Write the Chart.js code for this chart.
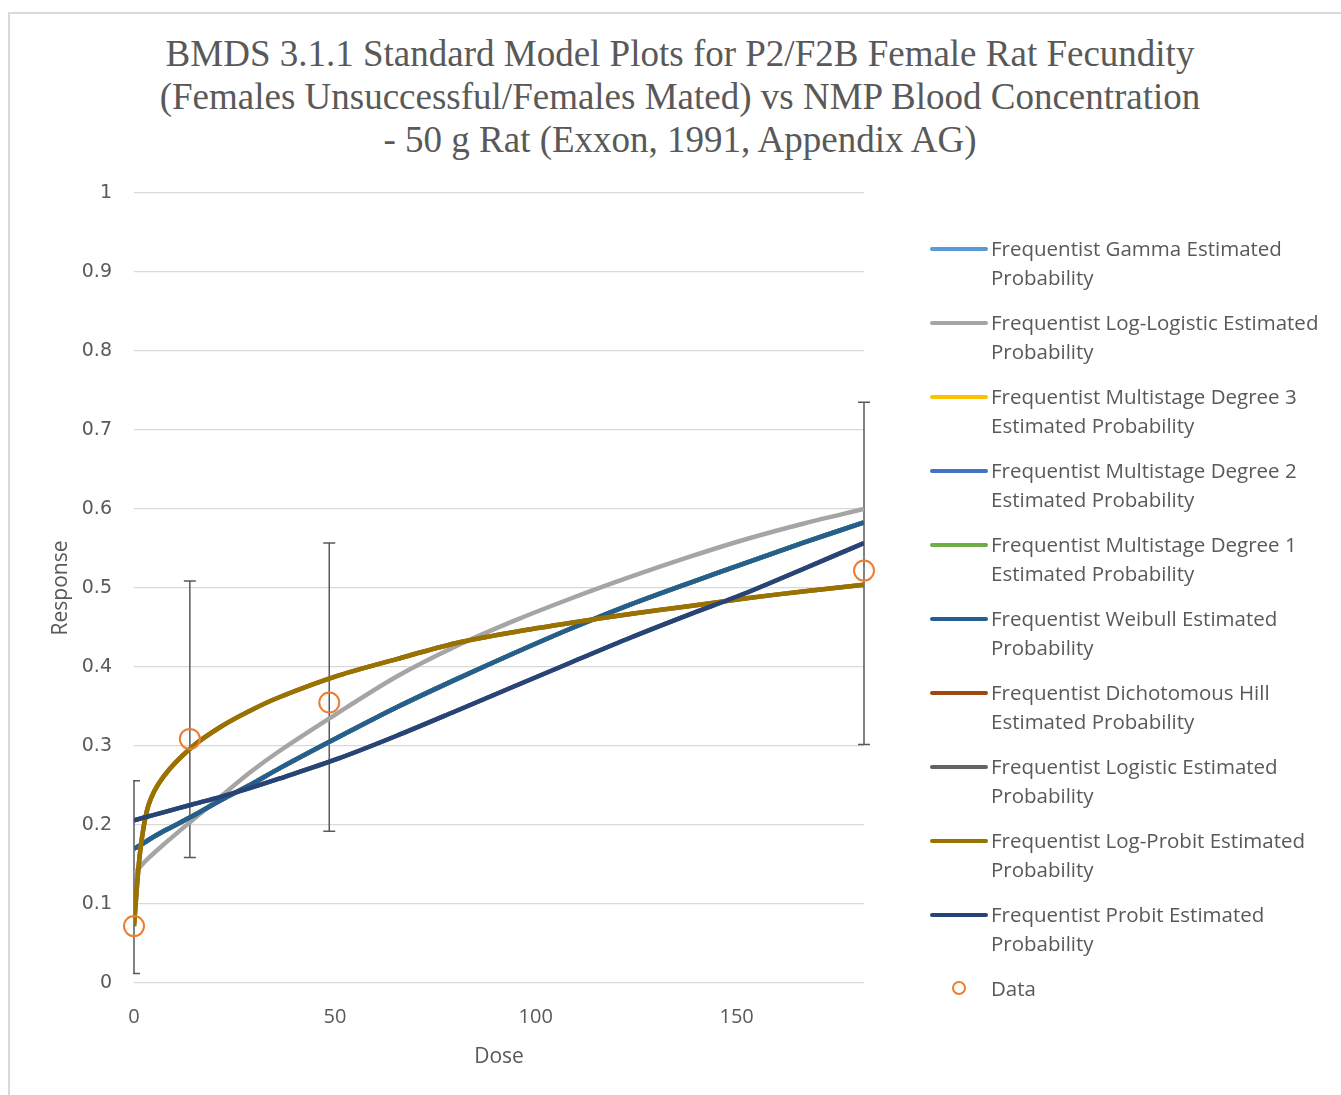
<!DOCTYPE html>
<html>
<head>
<meta charset="utf-8">
<script src="https://cdn.jsdelivr.net/npm/chart.js@4.4.1/dist/chart.umd.min.js"></script>
<style>
  html, body { margin: 0; padding: 0; background: #fff; overflow: hidden; }
  #frame { position: absolute; left: 8px; top: 12px; width: 1400px; height: 1200px; border: 2px solid #d9d9d9; box-sizing: border-box; }
  #title { position: absolute; left: 0; top: 32px; width: 1360px; text-align: center; font-family: "Liberation Serif"; font-size: 37px; line-height: 43px; color: #595959; }
  #chart { position: absolute; left: 0; top: 0; }
  #legend { position: absolute; left: 930px; top: 234px; width: 420px; font-family: "Open Sans"; font-size: 20.5px; color: #595959; }
  .item { position: relative; height: 74px; }
  .swatch { position: absolute; left: 0; top: 13px; width: 58px; height: 4px; border-radius: 2px; }
  .dot { position: absolute; left: 22px; top: 7px; width: 14px; height: 14px; border: 2px solid #ED7D31; border-radius: 50%; box-sizing: border-box; }
  .txt { position: absolute; left: 61px; top: 0; width: 340px; line-height: 29px; }
</style>
</head>
<body>
<div id="frame"></div>
<div id="title">BMDS 3.1.1 Standard Model Plots for P2/F2B Female Rat Fecundity<br>(Females Unsuccessful/Females Mated) vs NMP Blood Concentration<br>- 50 g Rat (Exxon, 1991, Appendix AG)</div>
<canvas id="chart" width="1341" height="1095"></canvas>
<div id="legend"></div>
<script>
// dose grid for the model curves
const doses = [0, 1.5, 3.6, 7.3, 14.5, 21.8, 29, 36.3, 50.8, 65.4, 80, 94.4, 108.9, 123.5, 138, 152.5, 167, 181.7];

// model estimates
const logProbit   = [0.072, 0.165, 0.225, 0.261, 0.299, 0.325, 0.345, 0.362, 0.389, 0.410, 0.430, 0.444, 0.456, 0.467, 0.477, 0.487, 0.496, 0.504];
const logLogistic = [0.138, 0.147, 0.158, 0.175, 0.206, 0.237, 0.267, 0.294, 0.342, 0.388, 0.426, 0.458, 0.487, 0.514, 0.539, 0.562, 0.582, 0.600];
const weibull     = [0.170, 0.174, 0.181, 0.192, 0.211, 0.232, 0.251, 0.272, 0.311, 0.349, 0.384, 0.417, 0.449, 0.479, 0.506, 0.532, 0.558, 0.583];
const probit      = [0.206, 0.208, 0.211, 0.216, 0.226, 0.236, 0.247, 0.259, 0.284, 0.313, 0.344, 0.375, 0.406, 0.437, 0.466, 0.494, 0.525, 0.557];
// these overlap the curves above in the picture
const gamma = weibull;
const ms3 = weibull;
const ms2 = weibull;
const ms1 = weibull;
const dichHill = logProbit;
const logistic = probit;

// observed data with error bars
const dataDose = [0, 13.9, 48.6, 181.7];
const dataResp = [0.072, 0.309, 0.355, 0.522];
const errLow   = [0.012, 0.159, 0.192, 0.302];
const errHigh  = [0.256, 0.509, 0.557, 0.735];

const xTicks = [0, 50, 100, 150];

const series = [
  { name: 'Frequentist Gamma Estimated Probability', values: gamma, color: '#5B9BD5', order: 10 },
  { name: 'Frequentist Log-Logistic Estimated Probability', values: logLogistic, color: '#A5A5A5', order: 9 },
  { name: 'Frequentist Multistage Degree 3 Estimated Probability', values: ms3, color: '#FFC000', order: 8 },
  { name: 'Frequentist Multistage Degree 2 Estimated Probability', values: ms2, color: '#4472C4', order: 7 },
  { name: 'Frequentist Multistage Degree 1 Estimated Probability', values: ms1, color: '#70AD47', order: 6 },
  { name: 'Frequentist Weibull Estimated Probability', values: weibull, color: '#255E91', order: 5 },
  { name: 'Frequentist Dichotomous Hill Estimated Probability', values: dichHill, color: '#9E480E', order: 4 },
  { name: 'Frequentist Logistic Estimated Probability', values: logistic, color: '#636363', order: 3 },
  { name: 'Frequentist Log-Probit Estimated Probability', values: logProbit, color: '#997300', order: 2 },
  { name: 'Frequentist Probit Estimated Probability', values: probit, color: '#264478', order: 1 }
];

const datasets = series.map(s => ({
  label: s.name,
  data: doses.map((d, i) => ({ x: d, y: s.values[i] })),
  borderColor: s.color,
  backgroundColor: s.color,
  borderWidth: 4.5,
  pointRadius: 0,
  tension: 0.3,
  order: s.order
}));

datasets.push({
  label: 'Data',
  type: 'scatter',
  data: dataDose.map((d, i) => ({ x: d, y: dataResp[i] })),
  showLine: false,
  pointRadius: 10,
  pointBorderWidth: 2,
  borderColor: '#ED7D31',
  backgroundColor: 'rgba(0,0,0,0)',
  clip: false,
  order: 0
});

// error bars drawn under the curves
const errorBars = {
  id: 'errorBars',
  beforeDatasetsDraw(chart) {
    const { ctx, chartArea, scales: { x, y } } = chart;
    ctx.save();
    ctx.beginPath();
    ctx.rect(chartArea.left - 1, 0, chart.width, chart.height);
    ctx.clip();
    ctx.strokeStyle = '#595959';
    ctx.lineWidth = 1.5;
    dataDose.forEach((d, i) => {
      const px = x.getPixelForValue(d);
      const yl = y.getPixelForValue(errLow[i]);
      const yh = y.getPixelForValue(errHigh[i]);
      ctx.beginPath();
      ctx.moveTo(px, yl); ctx.lineTo(px, yh);
      ctx.moveTo(px - 6, yl); ctx.lineTo(px + 6, yl);
      ctx.moveTo(px - 6, yh); ctx.lineTo(px + 6, yh);
      ctx.stroke();
    });
    ctx.restore();
  }
};

const chart = new Chart(document.getElementById('chart').getContext('2d'), {
  type: 'line',
  data: { datasets: datasets },
  options: {
    responsive: false,
    animation: false,
    layout: { padding: { left: 20, top: 193, right: 477, bottom: 20 } },
    plugins: {
      legend: { display: false },
      title: { display: false },
      tooltip: { enabled: false }
    },
    scales: {
      x: {
        type: 'linear',
        min: 0,
        max: 181.7,
        afterFit(scale) { scale.height = 92; },
        afterBuildTicks(scale) { scale.ticks = xTicks.map(v => ({ value: v })); },
        grid: { display: false },
        border: { display: false },
        ticks: { padding: 14, color: '#595959', font: { family: 'Open Sans', size: 20 } },
        title: { display: true, text: 'Dose', color: '#595959', font: { family: 'Open Sans', size: 21 }, padding: { top: 0, bottom: 5 } }
      },
      y: {
        min: 0,
        max: 1,
        afterFit(scale) { scale.width = 114; },
        grid: { color: '#d9d9d9', lineWidth: 1.3, drawTicks: false },
        border: { display: false },
        ticks: {
          stepSize: 0.1,
          padding: 22,
          color: '#595959',
          font: { family: 'DejaVu Sans', size: 19 },
          callback: v => String(Number(v.toFixed(1)))
        },
        title: { display: true, text: 'Response', color: '#595959', font: { family: 'Open Sans', size: 21 }, padding: { top: 28, bottom: 0 } }
      }
    }
  },
  plugins: [errorBars]
});

// legend built from the chart's datasets
const legendEl = document.getElementById('legend');
chart.data.datasets.forEach(ds => {
  const item = document.createElement('div');
  item.className = 'item';
  const mark = document.createElement('div');
  if (ds.type === 'scatter') {
    mark.className = 'dot';
  } else {
    mark.className = 'swatch';
    mark.style.background = ds.borderColor;
  }
  const txt = document.createElement('div');
  txt.className = 'txt';
  txt.textContent = ds.label;
  item.appendChild(mark);
  item.appendChild(txt);
  legendEl.appendChild(item);
});
</script>
</body>
</html>
